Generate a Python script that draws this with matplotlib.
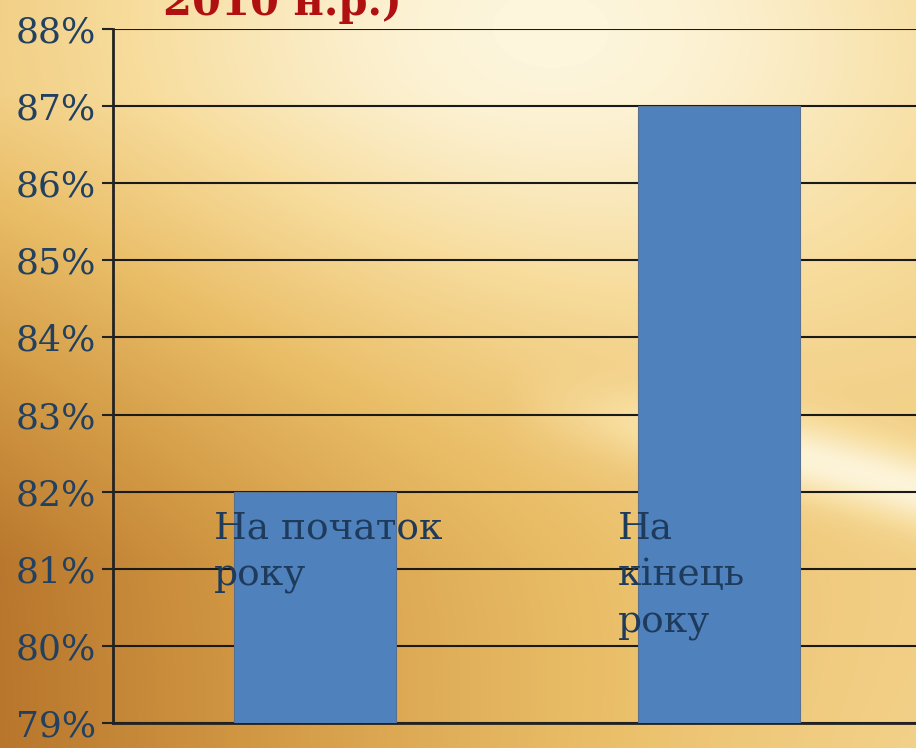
import matplotlib
matplotlib.use('Agg')
import matplotlib.pyplot as plt
import numpy as np
from matplotlib.colors import LinearSegmentedColormap

# дані
categories = ['На початок\nроку', 'На\nкінець\nроку']
values = [82, 87]
y_ticks = [79, 80, 81, 82, 83, 84, 85, 86, 87, 88]
title_text = '2010 н.р.)'

W, H = 916, 748
fig = plt.figure(figsize=(W / 100, H / 100), dpi=100)

# фон: золотистий градієнт
bg = fig.add_axes([0, 0, 1, 1], zorder=-10)
u = np.linspace(0, 1, W)[None, :]
v = np.linspace(0, 1, H)[:, None]
glow = np.exp(-(((u - 0.6) / 0.55) ** 2 + ((v - 0.02) / 0.45) ** 2))
dark = (1 - u) ** 1.5 * np.clip(v * 1.6 - 0.2, 0, 1)
curve = 0.56 + 0.18 * (u - 0.65) + 0.25 * (u - 0.65) ** 2
swoosh = np.exp(-((v - curve) / 0.05) ** 2) * np.clip((u - 0.55) / 0.3, 0, 1)
shade = 0.5 + 0.5 * glow - 0.5 * dark + 0.35 * swoosh + 0.15 * u * v
shade = np.clip(shade, 0, 1)
cmap = LinearSegmentedColormap.from_list(
    'gold', ['#b8762c', '#d39a45', '#eabe68', '#f7dc9c', '#fdf5dc'])
bg.imshow(shade, cmap=cmap, aspect='auto', vmin=0, vmax=1, interpolation='bilinear')
bg.axis('off')

ax = fig.add_axes([113 / W, 25 / H, 808 / W, 694 / H])
ax.patch.set_alpha(0)
x = np.arange(len(categories))
ax.bar(x, values, width=0.4, bottom=0, color='#4f81bd', edgecolor='#5a7090',
       linewidth=0.8, zorder=3)
ax.set_xlim(-0.5, 1.5)
ax.set_ylim(79, 88)
ax.set_yticks(y_ticks)
ax.set_yticklabels([f'{t}%' for t in y_ticks], family='DejaVu Serif',
                   fontsize=26, color='#22405f')
ax.tick_params(axis='y', length=8, width=1.5, color='#222222', pad=4)
ax.set_xticks([])
ax.grid(axis='y', color='#1a1a1a', linewidth=1.5, zorder=1)
for side in ['top', 'right']:
    ax.spines[side].set_visible(False)
for side in ['left', 'bottom']:
    ax.spines[side].set_color('#222222')
    ax.spines[side].set_linewidth(2)

for xi, lab in zip(x, categories):
    ax.text(xi - 0.25, 81.76, lab, ha='left', va='top',
            family='DejaVu Serif', fontsize=27, color='#1f3b5c',
            linespacing=1.4, zorder=4)

fig.text(163 / W, 1 - 15 / H, title_text, ha='left', va='baseline',
         family='DejaVu Serif', fontweight='bold', fontsize=30, color='#b01010')

fig.savefig('out.png', dpi=100)
